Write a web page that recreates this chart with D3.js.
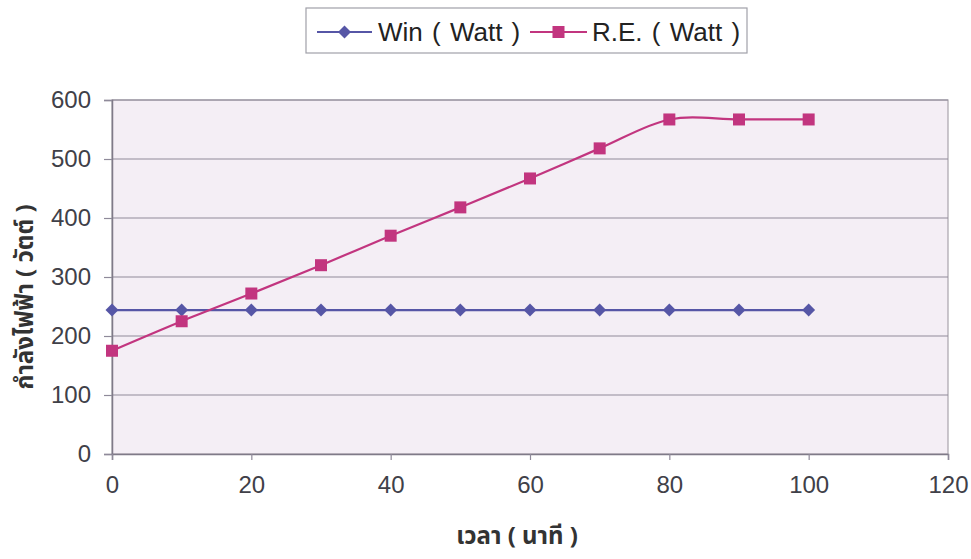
<!DOCTYPE html>
<html><head><meta charset="utf-8">
<script src="https://cdn.jsdelivr.net/npm/d3@7"></script>
<style>
html,body{margin:0;padding:0;background:#fff;}
svg{display:block;font-family:Arial,"Liberation Sans",sans-serif;}
</style></head>
<body><svg id="c" width="971" height="559"></svg>
<script>
const minutes = [0,10,20,30,40,50,60,70,80,90,100];
const winWatt = [244,244,244,244,244,244,244,244,244,244,244];
const reWatt  = [175,225,272,320,370,418,467,518,567,567,567];
const seriesNames = ["Win ( Watt )","R.E. ( Watt )"];
const xTicks = [0,20,40,60,80,100,120];
const yTicks = [0,100,200,300,400,500,600];
const xTitle = "เวลา ( นาที )";
const yTitle = "กำลังไฟฟ้า ( วัตต์ )";

const svg = d3.select("#c");
const L=112, R=948, T=100, B=454;
const x = d3.scaleLinear().domain([0,120]).range([L,R]);
const y = d3.scaleLinear().domain([0,600]).range([B,T]);

svg.append("rect").attr("x",L).attr("y",T).attr("width",R-L).attr("height",B-T)
  .attr("fill","#f4eef5").attr("stroke","#a8a4ac").attr("stroke-width",1.2);

svg.append("g").selectAll("line").data(yTicks.filter(d=>d>0)).join("line")
  .attr("x1",L).attr("x2",R).attr("y1",d=>y(d)).attr("y2",d=>y(d))
  .attr("stroke","#8f8a9a").attr("stroke-width",1.2);

const yAxis = d3.axisLeft(y).tickValues(yTicks).tickSize(8).tickPadding(13);
const gy = svg.append("g").attr("transform",`translate(${L},0)`).call(yAxis);
const xAxis = d3.axisBottom(x).tickValues(xTicks).tickSize(6).tickPadding(16);
const gx = svg.append("g").attr("transform",`translate(0,${B})`).call(xAxis);
[gx,gy].forEach(g=>{
  g.select(".domain").attr("stroke","#7f7a88").attr("stroke-width",1.5);
  g.selectAll(".tick line").attr("stroke","#8f8a9a").attr("stroke-width",1.2);
  g.selectAll(".tick text").attr("fill","#404048").style("font-size","24px")
   .style("font-family","Arial,'Liberation Sans',sans-serif");
});

const colors = ["#5656a6","#c2357f"];
const data = [winWatt, reWatt];
const line = d3.line().x((d,i)=>x(minutes[i])).y(d=>y(d)).curve(d3.curveCatmullRom.alpha(0));
data.forEach((s,k)=>{
  svg.append("path").datum(s).attr("d",line).attr("fill","none")
    .attr("stroke",colors[k]).attr("stroke-width",2.2);
});
function marker(g,k,cx,cy){
  if(k===0){
    g.append("path").attr("d",d3.symbol().type(d3.symbolSquare).size(84)())
      .attr("transform",`translate(${cx},${cy}) rotate(45)`).attr("fill",colors[0]);
  } else {
    g.append("rect").attr("x",cx-6).attr("y",cy-6).attr("width",12).attr("height",12).attr("fill",colors[1]);
  }
}
data.forEach((s,k)=>{
  const g = svg.append("g");
  s.forEach((v,i)=>marker(g,k,x(minutes[i]),y(v)));
});

const lg = svg.append("g");
lg.append("rect").attr("x",306).attr("y",8).attr("width",441).attr("height",45)
  .attr("fill","#fff").attr("stroke","#a0a0a8").attr("stroke-width",1.2);
const legX = [[317,372,378],[530,587,592]];
seriesNames.forEach((n,k)=>{
  const [a,b,t]=legX[k];
  lg.append("line").attr("x1",a).attr("x2",b).attr("y1",32).attr("y2",32)
    .attr("stroke",colors[k]).attr("stroke-width",2.2);
  marker(lg,k,(a+b)/2,32);
  lg.append("text").attr("x",t).attr("y",41).text(n).attr("fill","#222")
    .style("font-size","26px").style("word-spacing","2px");
});

svg.append("text").attr("x",517).attr("y",544).attr("text-anchor","middle")
  .style("font-size","24px").style("font-weight","bold").attr("fill","#333")
  .style("font-family","'Noto Sans Thai','Noto Sans',Arial,sans-serif").text(xTitle);
svg.append("text").attr("transform","translate(33,297) rotate(-90)").attr("text-anchor","middle")
  .style("font-size","24px").style("font-weight","bold").attr("fill","#333")
  .style("font-family","'Noto Sans Thai','Noto Sans',Arial,sans-serif").text(yTitle);
</script></body></html>
